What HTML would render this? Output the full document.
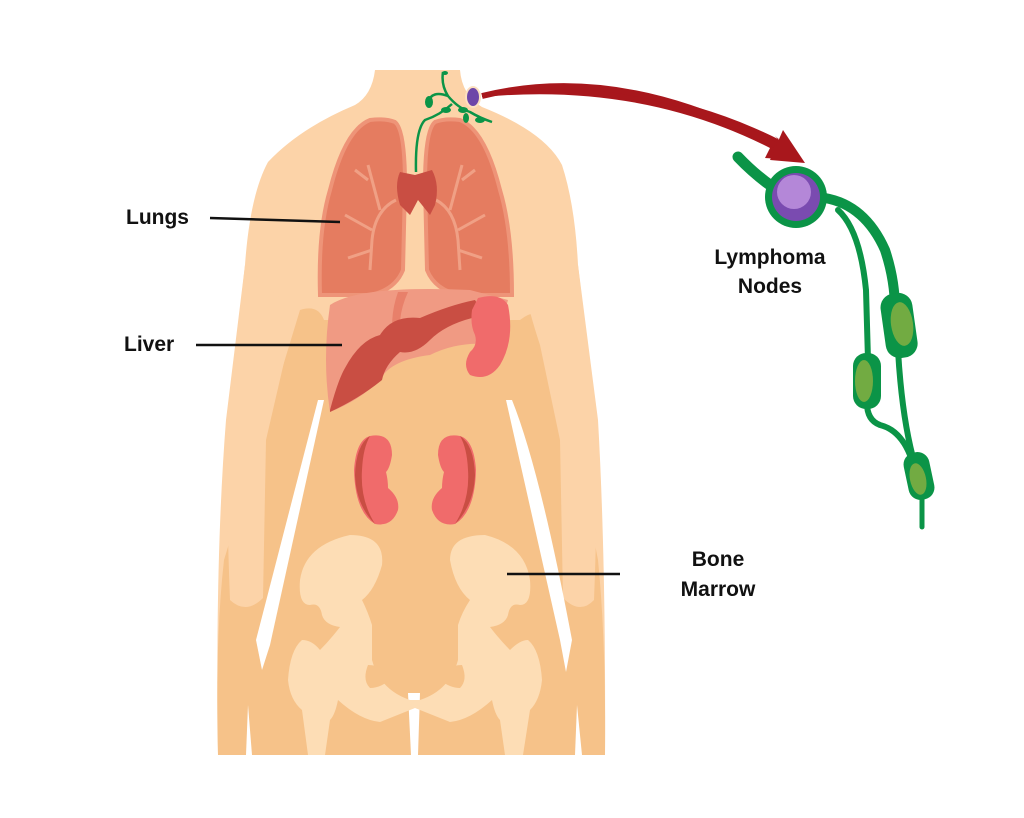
<!DOCTYPE html>
<html><head><meta charset="utf-8"><style>
html,body{margin:0;padding:0;background:#fff}
svg{display:block}
text{font-family:"Liberation Sans",sans-serif;font-weight:bold;fill:#111;font-size:21px}
</style></head><body>
<svg width="1024" height="818" viewBox="0 0 1024 818" xmlns="http://www.w3.org/2000/svg">
<path d="M375,70 L460,70 Q462,95 482,107 Q545,132 562,165 Q575,205 578,265 L598,420 Q606,560 605,755 L218,755 Q215,560 226,420 L245,265 Q250,195 268,162 Q300,128 355,105 Q372,95 375,70 Z" fill="#FCD3A8"/>
<path d="M300,310 Q318,304 324,320 L520,320 Q540,304 553,325 L598,560 Q606,640 605,755 L218,755 Q215,640 224,560 Z" fill="#F6C289"/>
<!-- light upper/lower arm areas -->
<path d="M230,600 Q226,500 228,420 L245,265 Q270,292 298,312 Q293,330 288,345 L266,440 L263,598 Q246,615 230,600 Z" fill="#FCD3A8"/>
<path d="M594,600 Q598,500 596,420 L578,265 Q555,292 530,312 Q535,330 540,345 L560,440 L563,598 Q580,615 594,600 Z" fill="#FCD3A8"/>
<path d="M318,400 L324,400 L270,645 L262,670 L256,640 Z" fill="#fff"/>
<path d="M506,400 L512,400 Q540,470 572,640 L566,672 L560,640 Z" fill="#fff"/>
<path d="M408,693 L420,693 L418,755 L411,755 Z" fill="#fff"/>
<path d="M248,705 L252,755 L246,755 Z" fill="#fff"/>
<path d="M577,705 L582,755 L575,755 Z" fill="#fff"/>
<g fill="#FDDDB5">
<path d="M350,535 Q385,535 382,565 Q375,590 362,600 Q368,612 372,625 L372,660 Q380,690 410,700 L420,700 Q450,690 458,660 L458,625 Q462,612 470,600 Q455,588 450,560 Q450,535 485,535 Q525,545 530,580 Q532,605 520,605 Q510,602 508,615 Q505,625 490,627 Q500,640 510,650 Q520,640 528,640 Q540,650 542,680 Q540,700 530,710 L523,755 L505,755 L500,720 Q495,715 492,700 Q470,720 450,722 L415,708 L380,722 Q360,720 338,700 Q335,715 330,720 L325,755 L308,755 L302,710 Q290,700 288,680 Q290,650 302,640 Q312,640 320,650 Q330,640 340,627 Q325,625 322,615 Q320,602 310,605 Q298,605 300,580 Q305,545 350,535 Z"/>
</g>
<path d="M368,665 Q385,665 390,680 Q380,688 370,688 Q362,680 368,665 Z" fill="#F6C289"/>
<path d="M462,665 Q445,665 440,680 Q450,688 460,688 Q468,680 462,665 Z" fill="#F6C289"/>
<path d="M370,436 Q392,432 392,455 Q390,468 386,472 Q388,480 388,488 Q400,498 398,510 Q392,527 375,524 Q355,512 354,470 Q356,440 370,436 Z" fill="#F06B6B"/>
<path d="M370,436 Q356,445 355,475 Q356,505 375,524 Q360,500 362,470 Q363,448 370,436 Z" fill="#C94E43"/>
<path d="M460,436 Q438,432 438,455 Q440,468 444,472 Q442,480 442,488 Q430,498 432,510 Q438,527 455,524 Q475,512 476,470 Q474,440 460,436 Z" fill="#F06B6B"/>
<path d="M460,436 Q474,445 475,475 Q474,505 455,524 Q470,500 468,470 Q467,448 460,436 Z" fill="#C94E43"/>
<path d="M395,122 Q405,130 405,185 L403,270 Q395,290 370,295 L320,295 Q318,230 330,190 Q345,130 370,120 Q385,118 395,122 Z" fill="#E57C60" stroke="#EE9478" stroke-width="4"/>
<path d="M435,122 Q425,130 425,185 L427,270 Q435,290 460,295 L512,295 Q512,230 500,190 Q485,130 460,120 Q445,118 435,122 Z" fill="#E57C60" stroke="#EE9478" stroke-width="4"/>
<g stroke="#F0A085" stroke-width="3" fill="none">
<path d="M396,200 Q375,210 372,240 L370,270 M372,230 L345,215 M372,250 L348,258 M380,210 L368,165 M368,180 L355,170"/>
<path d="M436,200 Q455,210 458,240 L460,270 M458,230 L485,215 M458,250 L482,258 M450,210 L462,165 M462,180 L475,170"/>
</g>
<path d="M400,172 L415,175 L432,170 Q440,185 435,205 L430,215 L418,200 L410,215 L400,205 Q394,185 400,172 Z" fill="#C94E43"/>
<path d="M330,305 Q360,285 470,290 L508,300 L495,345 Q460,340 430,355 Q390,360 380,380 Q360,400 330,412 Q322,360 330,305 Z" fill="#F09A83"/>
<path d="M398,292 Q388,320 395,348 L402,352 Q395,320 408,292 Z" fill="#E8806A"/>
<path d="M330,410 Q338,380 345,368 Q360,340 380,335 Q392,315 420,318 Q450,305 475,300 Q482,310 472,318 Q445,325 430,340 Q415,355 400,352 Q385,365 382,380 Q360,398 330,412 Z" fill="#C94E43"/>
<path d="M478,298 Q500,292 508,305 Q515,340 500,365 Q488,382 470,375 Q462,365 470,352 Q478,345 475,335 Q470,325 472,310 Z" fill="#F06B6B"/>
<g stroke="#0B9447" stroke-width="2.5" fill="none">
<path d="M443,72 Q441,85 448,96 Q458,108 470,112 Q480,118 492,122 M448,96 Q432,90 428,102 M452,104 Q440,115 425,120 Q415,130 416,172"/>
</g>
<g fill="#0B9447">
<ellipse cx="429" cy="102" rx="4" ry="6"/><ellipse cx="446" cy="110" rx="5" ry="3"/><ellipse cx="463" cy="110" rx="5" ry="3"/><ellipse cx="466" cy="118" rx="3" ry="5"/><ellipse cx="480" cy="120" rx="5" ry="3"/><ellipse cx="445" cy="73" rx="3" ry="2"/>
</g>
<ellipse cx="473" cy="97" rx="8" ry="11" fill="#FCE0C0"/>
<ellipse cx="473" cy="97" rx="6" ry="9" fill="#6E46A8"/>
<path d="M482,95 Q640,70 780,140 L775,136 L800,162 Q770,158 765,158 L770,148 Q640,82 482,97 Z" fill="#A8171C"/>
<path d="M783,130 L805,163 L770,160 Z" fill="#A8171C"/>
<path d="M482,96 Q620,62 775,145" stroke="#A8171C" stroke-width="6" fill="none"/>
<g stroke="#0B9447" fill="none" stroke-linecap="round">
<path d="M738,157 Q760,180 785,195" stroke-width="11"/>
<path d="M825,198 Q865,205 885,250 Q895,280 895,310" stroke-width="10"/>
<path d="M838,210 Q860,230 866,290 L868,360" stroke-width="6"/>
<path d="M898,350 Q902,420 915,465" stroke-width="6"/>
<path d="M867,400 Q866,420 880,425 Q900,430 910,455" stroke-width="6"/>
<path d="M922,495 L922,527" stroke-width="5"/>
</g>
<circle cx="796" cy="197" r="31" fill="#0B9447"/>
<circle cx="796" cy="197" r="24" fill="#7A4BB0"/>
<circle cx="794" cy="192" r="17" fill="#B487D8"/>
<rect x="883" y="293" width="32" height="65" rx="14" fill="#0B9447" transform="rotate(-8 899 325)"/>
<ellipse cx="902" cy="324" rx="11" ry="22" fill="#72AB42" transform="rotate(-8 902 324)"/>
<rect x="853" y="353" width="28" height="56" rx="13" fill="#0B9447"/>
<ellipse cx="864" cy="381" rx="9" ry="21" fill="#72AB42"/>
<rect x="906" y="452" width="26" height="48" rx="12" fill="#0B9447" transform="rotate(-12 919 476)"/>
<ellipse cx="918" cy="479" rx="8" ry="16" fill="#72AB42" transform="rotate(-12 918 479)"/>
<text x="126" y="224">Lungs</text>
<line x1="210" y1="218" x2="340" y2="222" stroke="#111" stroke-width="2.5"/>
<text x="124" y="351">Liver</text>
<line x1="196" y1="345" x2="342" y2="345" stroke="#111" stroke-width="2.5"/>
<text x="770" y="264" text-anchor="middle">Lymphoma</text>
<text x="770" y="293" text-anchor="middle">Nodes</text>
<text x="718" y="566" text-anchor="middle">Bone</text>
<text x="718" y="596" text-anchor="middle">Marrow</text>
<line x1="507" y1="574" x2="620" y2="574" stroke="#111" stroke-width="2.5"/>
</svg>
</body></html>
